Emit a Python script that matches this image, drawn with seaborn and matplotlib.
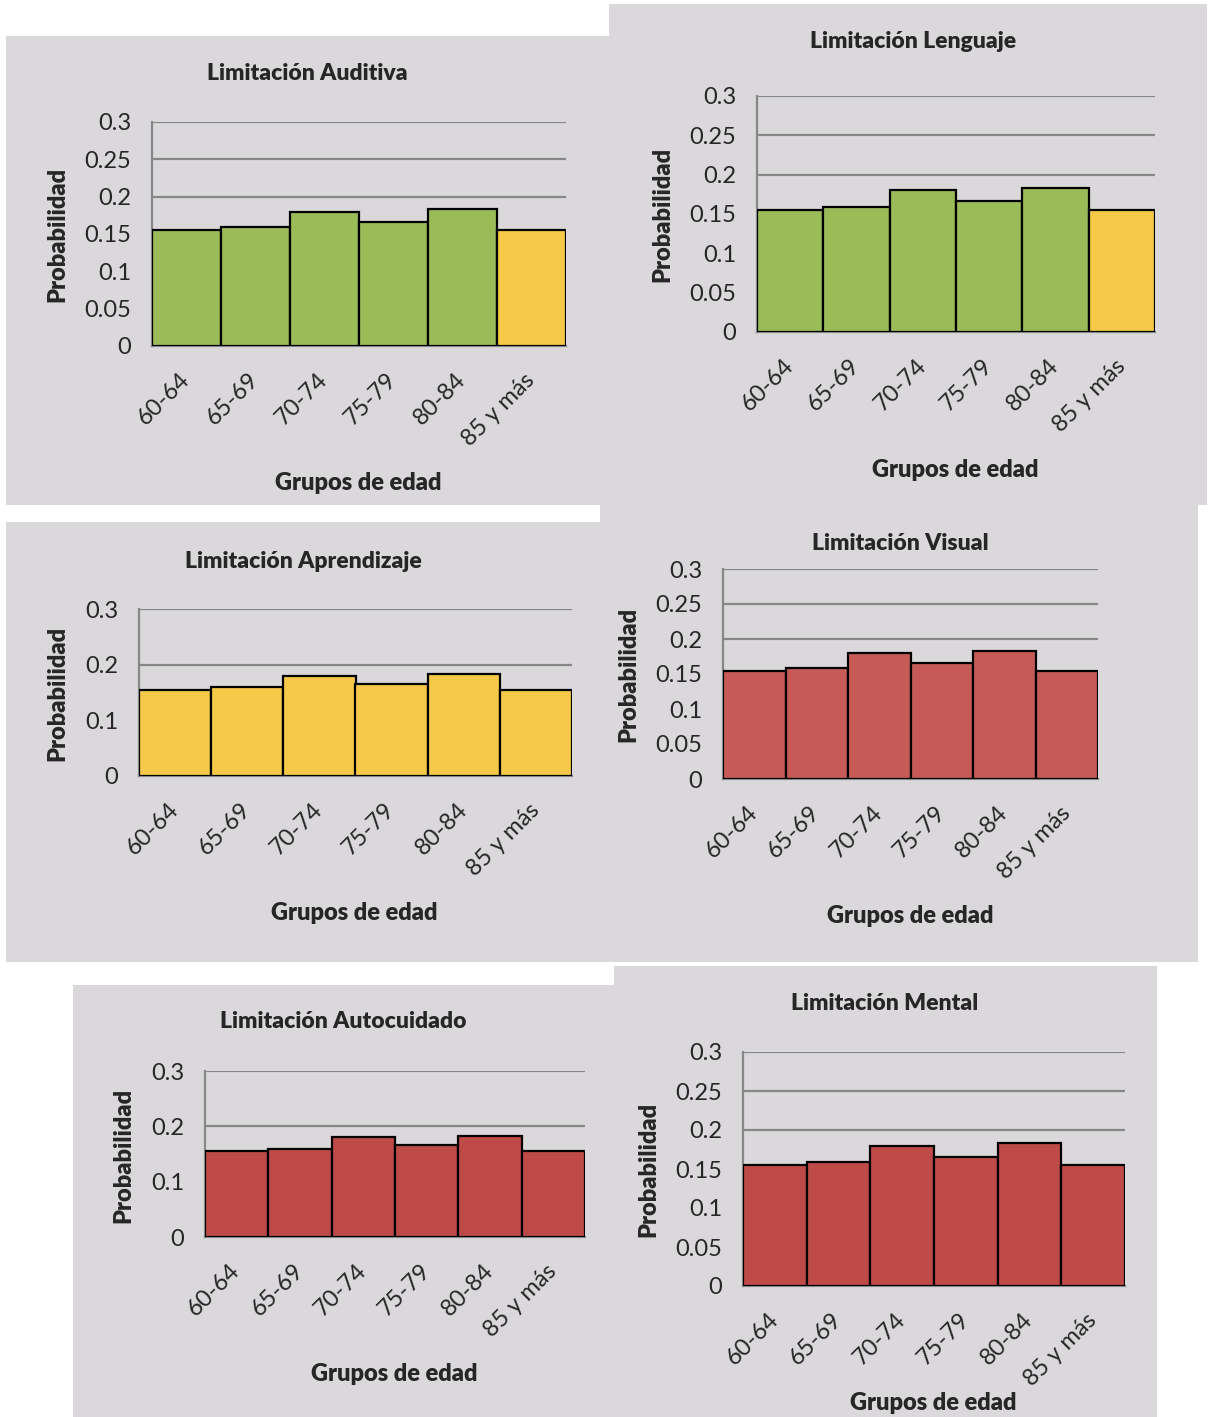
import matplotlib
matplotlib.use("Agg")
import matplotlib.pyplot as plt
from matplotlib.patches import Rectangle
import seaborn as sns
import numpy as np

# Age groups and estimated probabilities (same profile for every limitation)
grupos = ["60-64", "65-69", "70-74", "75-79", "80-84", "85 y más"]
prob_auditiva = [0.155, 0.159, 0.180, 0.166, 0.183, 0.155]
prob_lenguaje = [0.155, 0.159, 0.180, 0.166, 0.183, 0.155]
prob_aprendizaje = [0.155, 0.159, 0.180, 0.166, 0.183, 0.155]
prob_visual = [0.155, 0.159, 0.180, 0.166, 0.183, 0.155]
prob_autocuidado = [0.155, 0.159, 0.180, 0.166, 0.183, 0.155]
prob_mental = [0.155, 0.159, 0.180, 0.166, 0.183, 0.155]

VERDE = "#9BBB59"
AMARILLO = "#F6C949"
ROJO_CLARO = "#C55A57"
ROJO = "#BF4B48"
FONDO = "#DAD8DB"
REJILLA = "#878787"

sns.set_theme(style="white")
plt.rcParams["font.family"] = ["Lato", "DejaVu Sans"]

W, H = 1208, 1417
fig = plt.figure(figsize=(W / 100, H / 100), dpi=100, facecolor="white")


def fx(x):
    return x / W


def fy(y):
    return 1 - y / H


paneles = [
    dict(titulo="Limitación Auditiva", valores=prob_auditiva,
         colores=[VERDE] * 5 + [AMARILLO], paso=0.05,
         fondo=(6, 36, 609, 505), area=(152, 122, 566, 346),
         pos_titulo=(307, 73), pos_x=(358, 483), pos_y=(57, 234)),
    dict(titulo="Limitación Lenguaje", valores=prob_lenguaje,
         colores=[VERDE] * 5 + [AMARILLO], paso=0.05,
         fondo=(609, 4, 1207, 505), area=(757, 96, 1155, 332),
         pos_titulo=(913, 41), pos_x=(955, 470), pos_y=(662, 214)),
    dict(titulo="Limitación Aprendizaje", valores=prob_aprendizaje,
         colores=[AMARILLO] * 6, paso=0.1,
         fondo=(6, 522, 600, 962), area=(139, 609, 572, 776),
         pos_titulo=(303, 561), pos_x=(354, 913), pos_y=(57, 693)),
    dict(titulo="Limitación Visual", valores=prob_visual,
         colores=[ROJO_CLARO] * 6, paso=0.05,
         fondo=(600, 505, 1198, 962), area=(723, 569, 1098, 779),
         pos_titulo=(900, 543), pos_x=(910, 916), pos_y=(628, 674)),
    dict(titulo="Limitación Autocuidado", valores=prob_autocuidado,
         colores=[ROJO] * 6, paso=0.1,
         fondo=(73, 985, 614, 1417), area=(205, 1071, 585, 1237),
         pos_titulo=(343, 1021), pos_x=(394, 1374), pos_y=(123, 1155)),
    dict(titulo="Limitación Mental", valores=prob_mental,
         colores=[ROJO] * 6, paso=0.05,
         fondo=(614, 966, 1157, 1417), area=(743, 1052, 1125, 1286),
         pos_titulo=(885, 1004), pos_x=(933, 1403), pos_y=(648, 1169)),
]

for p in paneles:
    x0, y0, x1, y1 = p["fondo"]
    fig.add_artist(Rectangle((fx(x0), fy(y1)), (x1 - x0) / W, (y1 - y0) / H,
                             transform=fig.transFigure, facecolor=FONDO,
                             edgecolor="none", zorder=0))

for p in paneles:
    a0, b0, a1, b1 = p["area"]
    ax = fig.add_axes([fx(a0), fy(b1), (a1 - a0) / W, (b1 - b0) / H])
    ax.set_facecolor("none")
    sns.barplot(x=grupos, y=p["valores"], hue=grupos, palette=p["colores"],
                legend=False, width=1.0, edgecolor="black", linewidth=1.6,
                saturation=1, ax=ax, zorder=3)
    ax.set_xlim(-0.5, 5.5)
    ax.set_ylim(0, 0.3)
    ticks = np.round(np.arange(0, 0.3001, p["paso"]), 2)
    ax.set_yticks(ticks)
    ax.set_yticklabels([f"{t:g}" for t in ticks], fontsize=17)
    ax.yaxis.grid(True, color=REJILLA, linewidth=1.6, zorder=0)
    ax.set_axisbelow(True)
    for s in ["top", "right"]:
        ax.spines[s].set_visible(False)
    for s in ["left", "bottom"]:
        ax.spines[s].set_color(REJILLA)
        ax.spines[s].set_linewidth(1.6)
    ax.tick_params(axis="both", length=0)
    ax.tick_params(axis="y", pad=15)
    ax.tick_params(axis="x", pad=22)
    ax.set_xticks(range(len(grupos)))
    ax.set_xticklabels(grupos, rotation=45, ha="right", va="center",
                       rotation_mode="anchor", fontsize=17)
    ax.set_xlabel("")
    ax.set_ylabel("")

    tx, ty = p["pos_titulo"]
    fig.text(fx(tx), fy(ty), p["titulo"], ha="center", va="center",
             fontsize=16.5, fontweight="heavy")
    gx, gy = p["pos_x"]
    fig.text(fx(gx), fy(gy), "Grupos de edad", ha="center", va="center",
             fontsize=17, fontweight="heavy")
    px_, py_ = p["pos_y"]
    fig.text(fx(px_), fy(py_), "Probabilidad", ha="center", va="center",
             rotation=90, fontsize=17, fontweight="heavy")

fig.savefig("out.png", dpi=100, facecolor="white")
